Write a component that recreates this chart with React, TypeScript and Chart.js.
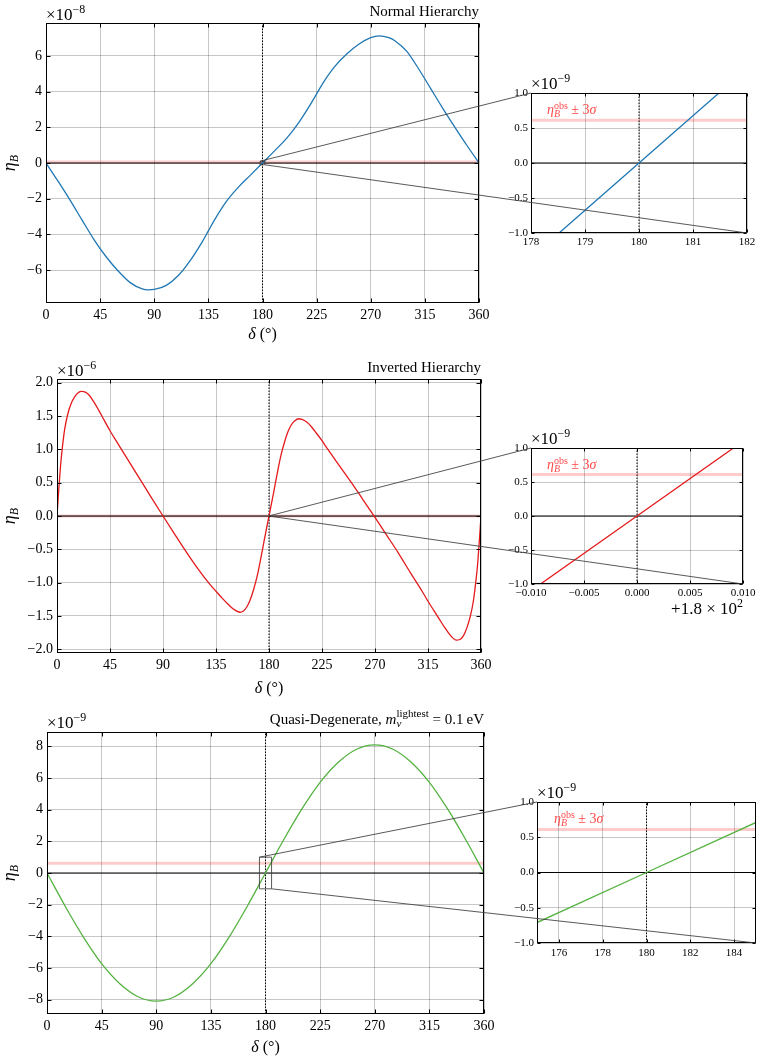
import React, { useEffect, useRef } from 'react';
import { Chart, registerables } from 'chart.js';
Chart.register(...registerables);

const SERIF = "'Liberation Serif', 'DejaVu Serif', serif";

// ---------------- data ----------------
// Normal hierarchy, eta_B in units of 1e-8
const nhDelta = [0, 10, 20, 30, 40, 50, 60, 70, 80, 85, 90, 100, 110, 120, 130, 135, 140, 150, 160, 170, 180,
  190, 200, 210, 220, 225, 230, 240, 250, 260, 270, 277, 285, 290, 300, 310, 320, 330, 340, 350, 360];
const nhEta = [0, -1.02, -2.08, -3.2, -4.3, -5.25, -6.05, -6.7, -7.05, -7.1, -7.08, -6.85, -6.3, -5.45, -4.4, -3.8, -3.2, -2.15, -1.35, -0.68, 0,
  0.68, 1.38, 2.25, 3.3, 3.87, 4.45, 5.4, 6.1, 6.65, 7.02, 7.12, 7.02, 6.85, 6.25, 5.25, 4.15, 3.05, 2.0, 0.98, 0];

// Inverted hierarchy, eta_B in units of 1e-6
const ihDelta = [0, 1, 2, 3, 4.5, 6.5, 9, 12, 15, 18, 21, 24, 27, 31, 35, 40, 45, 50, 60, 70, 80, 90,
  100, 110, 120, 130, 135, 140, 145, 150, 155.5, 158, 161, 164, 167, 170, 173, 176, 178, 180,
  182, 184, 187, 190, 193, 196, 199, 202, 205, 208, 212, 216, 220, 225, 230, 240, 250, 260, 270,
  280, 290, 300, 310, 315, 320, 325, 329, 333, 336, 339, 342, 345, 348, 351, 353.5, 355.5, 357, 358, 359, 360];
const ihEta = [0, 0.27, 0.52, 0.75, 1.02, 1.3, 1.52, 1.69, 1.79, 1.85, 1.87, 1.86, 1.82, 1.72, 1.6, 1.44, 1.28, 1.135, 0.85, 0.565, 0.28, 0,
  -0.275, -0.545, -0.8, -1.03, -1.13, -1.23, -1.32, -1.4, -1.445, -1.43, -1.37, -1.26, -1.1, -0.9, -0.64, -0.36, -0.18, 0,
  0.18, 0.36, 0.64, 0.9, 1.1, 1.26, 1.37, 1.43, 1.46, 1.45, 1.41, 1.34, 1.25, 1.13, 1.0, 0.75, 0.5, 0.24, -0.02,
  -0.29, -0.56, -0.85, -1.13, -1.28, -1.42, -1.56, -1.67, -1.77, -1.83, -1.865, -1.855, -1.8, -1.68, -1.5, -1.28, -1.0, -0.75, -0.52, -0.27, 0];

// Quasi-degenerate, eta_B in units of 1e-9
const qdDelta = [0, 15, 30, 45, 60, 75, 90, 105, 120, 135, 150, 165, 180, 195, 210, 225, 240, 255, 270, 285, 300, 315, 330, 345, 360];
const qdEta = [0, -2.1, -4.05, -5.73, -7.0, -7.82, -8.1, -7.82, -7.0, -5.73, -4.05, -2.1, 0, 2.1, 4.05, 5.73, 7.0, 7.82, 8.1, 7.82, 7.0, 5.73, 4.05, 2.1, 0];

// insets (eta_B in units of 1e-9)
const nhInsetDelta = [178.52, 180, 181.48];
const nhInsetEta = [-1.0, 0, 1.0];
const ihInsetOffset = [-0.0091, 0, 0.0091]; // delta - 180
const ihInsetEta = [-1.0, 0, 1.0];
const qdInsetDelta = [175, 180, 185];
const qdInsetEta = [-0.71, 0, 0.71];

const etaObs = 0.61; // observed eta_B in units of 1e-9

// tick labels
const mainXTicks = [0, 45, 90, 135, 180, 225, 270, 315, 360];
const nhYTicks = [-6, -4, -2, 0, 2, 4, 6];
const ihYTicks = [-2, -1.5, -1, -0.5, 0, 0.5, 1, 1.5, 2];
const qdYTicks = [-8, -6, -4, -2, 0, 2, 4, 6, 8];
const insetYTicks = [-1, -0.5, 0, 0.5, 1];
const nhInsetXTicks = [178, 179, 180, 181, 182];
const ihInsetXTicks = [-0.01, -0.005, 0, 0.005, 0.01];
const qdInsetXTicks = [176, 178, 180, 182, 184];

// ---------------- text helpers ----------------
type Part = { t: string; s: number; i?: boolean; dy?: number; stack?: Part[] };
const fontOf = (p: Part) => `${p.i ? 'italic ' : ''}${p.s}px ${SERIF}`;
function partW(ctx: CanvasRenderingContext2D, p: Part): number {
  if (p.stack) return Math.max(...p.stack.map((q) => partW(ctx, q)));
  ctx.font = fontOf(p);
  return ctx.measureText(p.t).width;
}
function drawRich(ctx: CanvasRenderingContext2D, parts: Part[], x: number, y: number, align: string, color = '#000') {
  const w = parts.reduce((a, p) => a + partW(ctx, p), 0);
  let cx = align === 'left' ? x : align === 'right' ? x - w : x - w / 2;
  ctx.save();
  ctx.fillStyle = color;
  ctx.textAlign = 'left';
  ctx.textBaseline = 'alphabetic';
  for (const p of parts) {
    const list = p.stack ? p.stack : [p];
    for (const q of list) {
      ctx.font = fontOf(q);
      ctx.fillText(q.t, cx, y + (q.dy || 0));
    }
    cx += partW(ctx, p);
  }
  ctx.restore();
}
function drawYLabel(ctx: CanvasRenderingContext2D, x: number, y: number) {
  ctx.save();
  ctx.translate(x, y);
  ctx.rotate(-Math.PI / 2);
  drawRich(ctx, [{ t: 'η', s: 18, i: true }, { t: 'B', s: 12, i: true, dy: 3 }], 0, 0, 'center');
  ctx.restore();
}
function drawXLabel(ctx: CanvasRenderingContext2D, x: number, y: number) {
  drawRich(ctx, [{ t: 'δ', s: 16, i: true }, { t: ' (°)', s: 16 }], x, y, 'center');
}
function drawMult(ctx: CanvasRenderingContext2D, x: number, y: number, exp: string, size = 17) {
  drawRich(ctx, [{ t: '×10', s: size }, { t: exp, s: size * 0.7, dy: -size * 0.42 }], x, y, 'left');
}
function drawObsLabel(ctx: CanvasRenderingContext2D, x: number, y: number) {
  drawRich(ctx, [
    { t: 'η', s: 14, i: true },
    { t: '', s: 10, stack: [{ t: 'B', s: 10, i: true, dy: 3 }, { t: 'obs', s: 10, dy: -5 }] },
    { t: ' ± 3', s: 14 },
    { t: 'σ', s: 14, i: true },
  ], x, y, 'left', '#ff4a4a');
}

// ---------------- panel specs ----------------
type Area = { left: number; right: number; top: number; bottom: number };
interface Spec {
  left: number; top: number; width: number; height: number;
  yW: number; xH: number; padT: number; padR: number;
  xMin: number; xMax: number; yMin: number; yMax: number;
  xTicks: number[]; yTicks: number[]; xDec: number; yDec: number;
  tickSize: number; tickLen: number; xPad: number; yPad: number;
  xs: number[]; ys: number[]; color: string; smooth: boolean;
  band: number; vline: number;
  texts: (ctx: CanvasRenderingContext2D, a: Area) => void;
}

const BLUE = '#1f77b4';
const RED = '#e41a1c';
const GREEN = '#55b241';

const specs: Spec[] = [
  { // NH main
    left: 0, top: 0, width: 495, height: 345, yW: 46, xH: 42, padT: 23, padR: 16,
    xMin: 0, xMax: 360, yMin: -7.84, yMax: 7.84, xTicks: mainXTicks, yTicks: nhYTicks, xDec: 0, yDec: 0,
    tickSize: 14, tickLen: 4, xPad: 4, yPad: 4, xs: nhDelta, ys: nhEta, color: BLUE, smooth: true,
    band: etaObs * 0.1, vline: 180,
    texts: (ctx, a) => {
      drawMult(ctx, a.left, a.top - 3, '−8');
      drawRich(ctx, [{ t: 'Normal Hierarchy', s: 15 }], a.right, a.top - 7, 'right');
      drawYLabel(ctx, 15, (a.top + a.bottom) / 2);
      drawXLabel(ctx, (a.left + a.right) / 2, a.bottom + 36);
    },
  },
  { // NH inset
    left: 490, top: 65, width: 273, height: 185, yW: 41, xH: 17, padT: 28, padR: 16,
    xMin: 178, xMax: 182, yMin: -1, yMax: 1, xTicks: nhInsetXTicks, yTicks: insetYTicks, xDec: 0, yDec: 1,
    tickSize: 11, tickLen: 3, xPad: 3, yPad: 3, xs: nhInsetDelta, ys: nhInsetEta, color: BLUE, smooth: false,
    band: etaObs, vline: 180,
    texts: (ctx, a) => {
      drawMult(ctx, a.left, a.top - 4, '−9');
      drawObsLabel(ctx, a.left + 16, a.top + 21);
    },
  },
  { // IH main
    left: 0, top: 350, width: 495, height: 355, yW: 57, xH: 52, padT: 29, padR: 14,
    xMin: 0, xMax: 360, yMin: -2.057, yMax: 2.057, xTicks: mainXTicks, yTicks: ihYTicks, xDec: 0, yDec: 1,
    tickSize: 14, tickLen: 4, xPad: 4, yPad: 4, xs: ihDelta, ys: ihEta, color: RED, smooth: true,
    band: etaObs * 0.001, vline: 180,
    texts: (ctx, a) => {
      drawMult(ctx, a.left, a.top - 3, '−6');
      drawRich(ctx, [{ t: 'Inverted Hierarchy', s: 15 }], a.right, a.top - 7, 'right');
      drawYLabel(ctx, 15, (a.top + a.bottom) / 2);
      drawXLabel(ctx, (a.left + a.right) / 2, a.bottom + 40);
    },
  },
  { // IH inset
    left: 490, top: 420, width: 273, height: 205, yW: 41, xH: 41, padT: 28, padR: 20,
    xMin: -0.01, xMax: 0.01, yMin: -1, yMax: 1, xTicks: ihInsetXTicks, yTicks: insetYTicks, xDec: 3, yDec: 1,
    tickSize: 11, tickLen: 3, xPad: 3, yPad: 3, xs: ihInsetOffset, ys: ihInsetEta, color: RED, smooth: false,
    band: etaObs, vline: 0,
    texts: (ctx, a) => {
      drawMult(ctx, a.left, a.top - 4, '−9');
      drawObsLabel(ctx, a.left + 16, a.top + 21);
      drawRich(ctx, [{ t: '+1.8 × 10', s: 17 }, { t: '2', s: 12, dy: -7 }], a.right, a.bottom + 30, 'right');
    },
  },
  { // QD main
    left: 0, top: 705, width: 495, height: 355, yW: 47, xH: 46, padT: 27, padR: 11,
    xMin: 0, xMax: 360, yMin: -8.91, yMax: 8.91, xTicks: mainXTicks, yTicks: qdYTicks, xDec: 0, yDec: 0,
    tickSize: 14, tickLen: 4, xPad: 4, yPad: 4, xs: qdDelta, ys: qdEta, color: GREEN, smooth: true,
    band: etaObs, vline: 180,
    texts: (ctx, a) => {
      drawMult(ctx, a.left, a.top - 4, '−9');
      drawRich(ctx, [
        { t: 'Quasi-Degenerate, ', s: 15 },
        { t: 'm', s: 15, i: true },
        { t: '', s: 10, stack: [{ t: 'ν', s: 11, i: true, dy: 3 }, { t: 'lightest', s: 11, dy: -7 }] },
        { t: ' = 0.1\u2009eV', s: 15 },
      ], a.right, a.top - 8, 'right');
      drawYLabel(ctx, 15, (a.top + a.bottom) / 2);
      drawXLabel(ctx, (a.left + a.right) / 2, a.bottom + 38);
    },
  },
  { // QD inset
    left: 490, top: 775, width: 273, height: 190, yW: 47, xH: 22, padT: 27, padR: 7,
    xMin: 175, xMax: 185, yMin: -1, yMax: 1, xTicks: qdInsetXTicks, yTicks: insetYTicks, xDec: 0, yDec: 1,
    tickSize: 11, tickLen: 3, xPad: 4, yPad: 3, xs: qdInsetDelta, ys: qdInsetEta, color: GREEN, smooth: false,
    band: etaObs, vline: 180,
    texts: (ctx, a) => {
      drawMult(ctx, a.left, a.top - 4, '−9');
      drawObsLabel(ctx, a.left + 17, a.top + 21);
    },
  },
];

// zoom boxes drawn in main panels: [mainIdx, insetIdx, x0, x1, y0, y1] in main panel units
const zoomBoxes: [number, number, number, number, number, number][] = [
  [0, 1, 178, 182, -0.1, 0.1],
  [2, 3, 179.99, 180.01, -0.001, 0.001],
  [4, 5, 175, 185, -1, 1],
];

const fmt = (d: number) => (v: number) => {
  const s = Math.abs(v).toFixed(d);
  return (v < -1e-12 ? '\u2212' : '') + s;
};

function makeChart(canvas: HTMLCanvasElement, sp: Spec): Chart {
  const frame = {
    id: 'frame',
    afterDraw(chart: any) {
      const ctx: CanvasRenderingContext2D = chart.ctx;
      const a = chart.chartArea;
      const xs = chart.scales.x, ys = chart.scales.y;
      ctx.save();
      ctx.strokeStyle = '#000';
      ctx.lineWidth = 1;
      const L = Math.round(a.left) + 0.5, R = Math.round(a.right) - 0.5;
      const T = Math.round(a.top) + 0.5, B = Math.round(a.bottom) - 0.5;
      ctx.beginPath();
      for (const v of sp.xTicks) {
        const p = Math.round(xs.getPixelForValue(v)) + 0.5;
        ctx.moveTo(p, B); ctx.lineTo(p, B - sp.tickLen);
        ctx.moveTo(p, T); ctx.lineTo(p, T + sp.tickLen);
      }
      for (const v of sp.yTicks) {
        const p = Math.round(ys.getPixelForValue(v)) + 0.5;
        ctx.moveTo(L, p); ctx.lineTo(L + sp.tickLen, p);
        ctx.moveTo(R, p); ctx.lineTo(R - sp.tickLen, p);
      }
      ctx.stroke();
      ctx.strokeRect(L, T, R - L, B - T);
      ctx.restore();
      sp.texts(ctx, a);
    },
  };
  const line = (data: { x: number; y: number }[], color: string, w: number, extra: any = {}) => ({
    data, borderColor: color, borderWidth: w, pointRadius: 0, fill: false, tension: 0, ...extra,
  });
  const datasets: any[] = [
    line(sp.xs.map((x, i) => ({ x, y: sp.ys[i] })), sp.color, 1.3,
      sp.smooth ? { cubicInterpolationMode: 'monotone' } : {}),
    line([{ x: sp.xMin, y: 0 }, { x: sp.xMax, y: 0 }], '#000', 1.2),
    line([{ x: sp.vline, y: sp.yMin }, { x: sp.vline, y: sp.yMax }], '#000', 1, { borderDash: [1.5, 1.5] }),
    line([{ x: sp.xMin, y: sp.band }, { x: sp.xMax, y: sp.band }], 'rgba(255,0,0,0.2)', 3),
  ];
  const gridColor = 'rgba(0,0,0,0.22)';
  return new Chart(canvas, {
    type: 'line',
    data: { datasets },
    options: {
      animation: false,
      responsive: false,
      maintainAspectRatio: false,
      devicePixelRatio: 1,
      events: [],
      layout: { padding: { left: 0, top: sp.padT, right: sp.padR, bottom: 0 } },
      plugins: { legend: { display: false }, tooltip: { enabled: false }, title: { display: false } },
      scales: {
        x: {
          type: 'linear', min: sp.xMin, max: sp.xMax,
          afterBuildTicks: (s: any) => { s.ticks = sp.xTicks.map((v) => ({ value: v })); },
          afterFit: (s: any) => { s.height = sp.xH; s.paddingLeft = 0; s.paddingRight = 0; },
          ticks: {
            callback: (v: any) => fmt(sp.xDec)(Number(v)), autoSkip: false, maxRotation: 0, minRotation: 0,
            padding: sp.xPad, color: '#000', font: { family: SERIF, size: sp.tickSize },
          },
          grid: { color: gridColor, lineWidth: 1, drawTicks: false },
          border: { display: false },
        },
        y: {
          type: 'linear', min: sp.yMin, max: sp.yMax,
          afterBuildTicks: (s: any) => { s.ticks = sp.yTicks.map((v) => ({ value: v })); },
          afterFit: (s: any) => { s.width = sp.yW; s.paddingTop = 0; s.paddingBottom = 0; },
          ticks: {
            callback: (v: any) => fmt(sp.yDec)(Number(v)), autoSkip: false,
            padding: sp.yPad, color: '#000', font: { family: SERIF, size: sp.tickSize },
          },
          grid: { color: gridColor, lineWidth: 1, drawTicks: false },
          border: { display: false },
        },
      },
    } as any,
    plugins: [frame as any],
  });
}

export default function App() {
  const refs = useRef<(HTMLCanvasElement | null)[]>([]);
  const overlay = useRef<HTMLCanvasElement | null>(null);

  useEffect(() => {
    const charts = specs.map((sp, i) => makeChart(refs.current[i] as HTMLCanvasElement, sp));
    const oc = overlay.current;
    if (oc) {
      const ctx = oc.getContext('2d') as CanvasRenderingContext2D;
      ctx.clearRect(0, 0, oc.width, oc.height);
      ctx.strokeStyle = 'rgba(60,60,60,0.85)';
      ctx.lineWidth = 1;
      for (const [mi, ii, x0, x1, y0, y1] of zoomBoxes) {
        const m = charts[mi] as any, ms = specs[mi];
        const n = charts[ii] as any, ns = specs[ii];
        const px = (x: number) => ms.left + m.scales.x.getPixelForValue(x);
        const py = (y: number) => ms.top + m.scales.y.getPixelForValue(y);
        const ax0 = px(x0), ax1 = px(x1), ay0 = py(y1), ay1 = py(y0);
        const ca = n.chartArea;
        ctx.beginPath();
        ctx.rect(ax0, ay0, Math.max(ax1 - ax0, 1), Math.max(ay1 - ay0, 1));
        ctx.moveTo(ax0, ay0);
        ctx.lineTo(ns.left + ca.left, ns.top + ca.top);
        ctx.moveTo(ax1, ay1);
        ctx.lineTo(ns.left + ca.right, ns.top + ca.bottom);
        ctx.stroke();
      }
    }
    return () => { charts.forEach((c) => c.destroy()); };
  }, []);

  return (
    <div style={{ position: 'absolute', left: 0, top: 0, width: 763, height: 1060, background: '#fff', overflow: 'hidden' }}>
      {specs.map((sp, i) => (
        <canvas
          key={i}
          ref={(el) => { refs.current[i] = el; }}
          width={sp.width}
          height={sp.height}
          style={{ position: 'absolute', left: sp.left, top: sp.top, width: sp.width, height: sp.height }}
        />
      ))}
      <canvas
        ref={overlay}
        width={763}
        height={1060}
        style={{ position: 'absolute', left: 0, top: 0, width: 763, height: 1060, pointerEvents: 'none' }}
      />
    </div>
  );
}
